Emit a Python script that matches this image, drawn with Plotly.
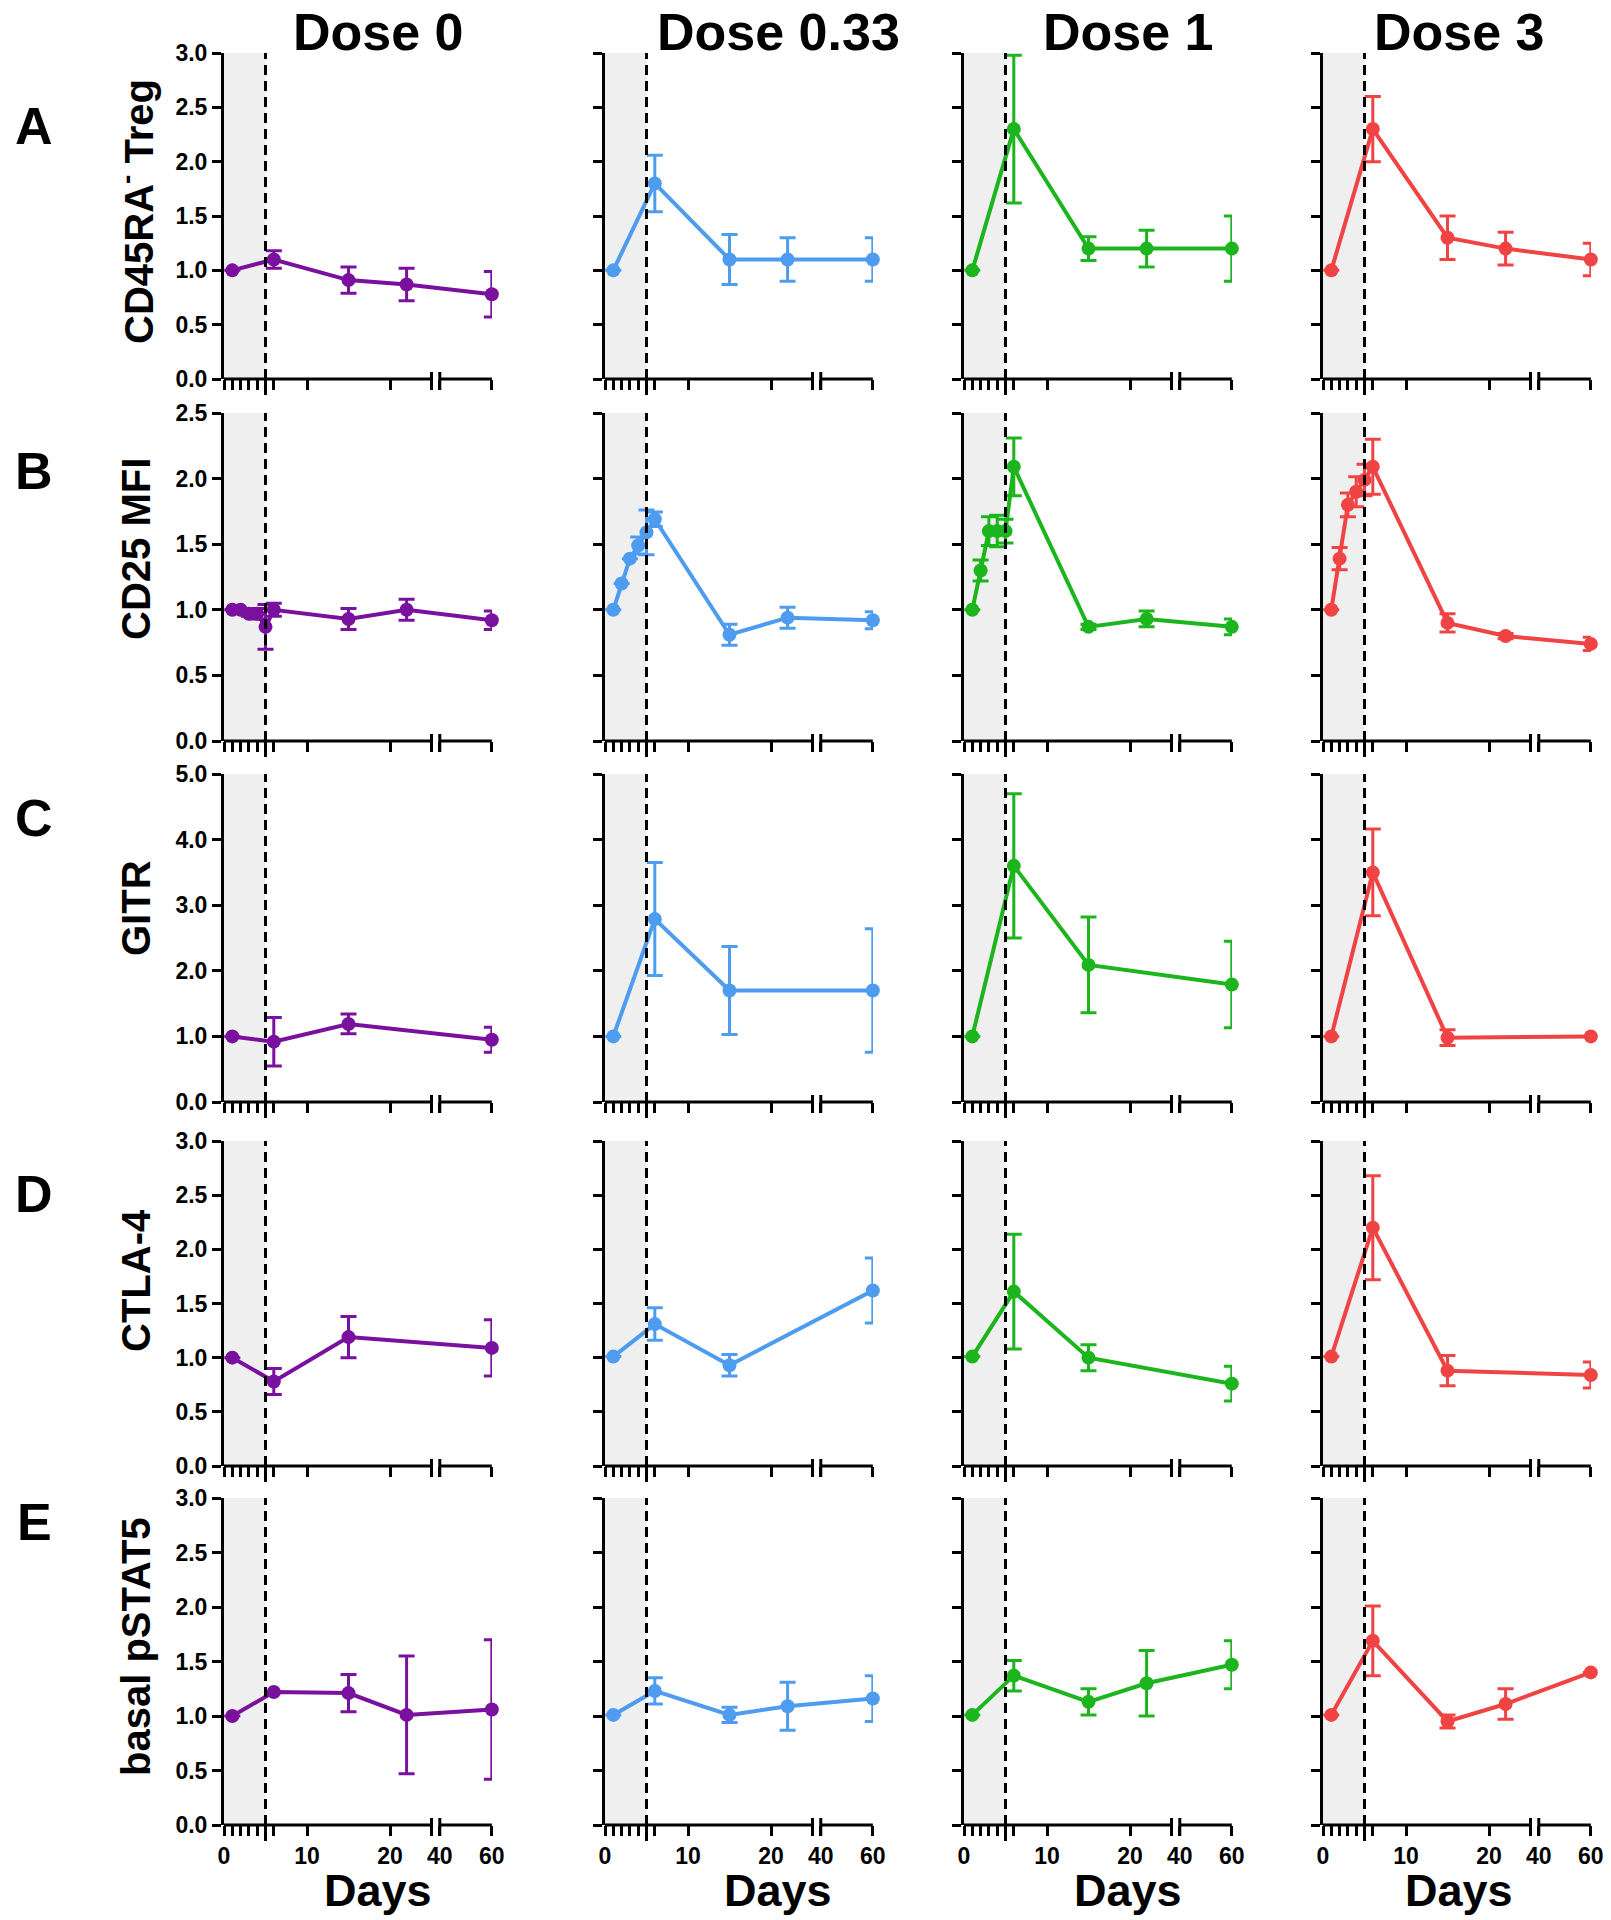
import plotly.graph_objects as go

# ---------------- data ----------------
DOSE_LABELS = ["Dose 0", "Dose 0.33", "Dose 1", "Dose 3"]
ROW_LETTERS = ["A", "B", "C", "D", "E"]
ROW_TITLES = ["CD45RA<sup>-</sup> Treg", "CD25 MFI", "GITR", "CTLA-4", "basal pSTAT5"]
ROW_YMAX = [3.0, 2.5, 5.0, 3.0, 3.0]
ROW_YSTEP = [0.5, 0.5, 1.0, 0.5, 0.5]

X_TICK_DAYS = [0, 1, 2, 3, 4, 5, 6, 10, 20, 40, 60]
X_TICK_TEXT = ["0", "", "", "", "", "", "", "10", "20", "40", "60"]

DAYS_A = [1, 6, 15, 22, 60]
DAYS_B = [1, 2, 3, 4, 5, 6, 15, 22, 60]
DAYS_C = [1, 6, 15, 60]
DAYS_D = [1, 6, 15, 60]
DAYS_E = [1, 6, 15, 22, 60]

# per dose: Dose 0, Dose 0.33, Dose 1, Dose 3
A_MEAN = [[1.00, 1.10, 0.91, 0.87, 0.78],
          [1.00, 1.80, 1.10, 1.10, 1.10],
          [1.00, 2.30, 1.20, 1.20, 1.20],
          [1.00, 2.30, 1.30, 1.20, 1.10]]
A_ERR = [[0.00, 0.08, 0.12, 0.15, 0.21],
         [0.00, 0.26, 0.23, 0.20, 0.20],
         [0.00, 0.68, 0.11, 0.17, 0.30],
         [0.00, 0.30, 0.20, 0.15, 0.15]]

B_MEAN = [[1.00, 1.00, 0.97, 0.97, 0.87, 1.00, 0.93, 1.00, 0.92],
          [1.00, 1.20, 1.39, 1.49, 1.59, 1.69, 0.81, 0.94, 0.92],
          [1.00, 1.30, 1.60, 1.60, 1.60, 2.09, 0.87, 0.93, 0.87],
          [1.00, 1.39, 1.80, 1.90, 1.99, 2.09, 0.90, 0.80, 0.74]]
B_ERR = [[0.00, 0.00, 0.02, 0.04, 0.17, 0.05, 0.08, 0.08, 0.07],
         [0.00, 0.00, 0.00, 0.065, 0.17, 0.055, 0.08, 0.08, 0.065],
         [0.00, 0.08, 0.11, 0.12, 0.09, 0.22, 0.02, 0.06, 0.06],
         [0.00, 0.085, 0.09, 0.115, 0.12, 0.21, 0.07, 0.02, 0.05]]

C_MEAN = [[1.00, 0.92, 1.19, 0.95],
          [1.00, 2.79, 1.70, 1.70],
          [1.00, 3.60, 2.09, 1.79],
          [1.00, 3.50, 0.98, 1.00]]
C_ERR = [[0.00, 0.37, 0.15, 0.19],
         [0.00, 0.86, 0.67, 0.94],
         [0.00, 1.10, 0.73, 0.66],
         [0.00, 0.66, 0.12, 0.00]]

D_MEAN = [[1.00, 0.78, 1.19, 1.09],
          [1.01, 1.31, 0.93, 1.62],
          [1.01, 1.61, 1.00, 0.76],
          [1.01, 2.20, 0.88, 0.84]]
D_ERR = [[0.00, 0.12, 0.19, 0.26],
         [0.00, 0.15, 0.10, 0.30],
         [0.00, 0.53, 0.12, 0.16],
         [0.00, 0.48, 0.14, 0.12]]

E_MEAN = [[1.00, 1.22, 1.21, 1.01, 1.06],
          [1.01, 1.23, 1.01, 1.09, 1.16],
          [1.01, 1.37, 1.13, 1.30, 1.47],
          [1.01, 1.69, 0.95, 1.11, 1.40]]
E_ERR = [[0.00, 0.00, 0.17, 0.54, 0.64],
         [0.00, 0.12, 0.07, 0.22, 0.21],
         [0.00, 0.14, 0.12, 0.30, 0.22],
         [0.00, 0.32, 0.06, 0.14, 0.00]]

ROW_DAYS = [DAYS_A, DAYS_B, DAYS_C, DAYS_D, DAYS_E]
ROW_MEANS = [A_MEAN, B_MEAN, C_MEAN, D_MEAN, E_MEAN]
ROW_ERRS = [A_ERR, B_ERR, C_ERR, D_ERR, E_ERR]

TREAT_END_DAY = 5

# ---------------- broken x scale ----------------
SEG1_END = 25.0        # first segment 0..25 days
SEG2_FROM, SEG2_TO = 40.0, 60.0
GAP = 1.0
SEG2_LEN = 6.27


def xmap(d):
    if d <= SEG1_END:
        return d
    return SEG1_END + GAP + (d - SEG2_FROM) * SEG2_LEN / (SEG2_TO - SEG2_FROM)


X_MAX = SEG1_END + GAP + SEG2_LEN + 0.02

# ---------------- styling / layout ----------------
FW, FH = 1611, 1920


def px_x(px):
    return px / FW


def px_y(py):
    return 1 - py / FH


FONT = "Liberation Sans, Arial, Helvetica, sans-serif"
COLORS = ["#7a119e", "#4d9cf0", "#1db51d", "#f04444"]
COL_LEFT = [224, 605, 964, 1323]
AXIS_W = 268
ROW_TOP = [53, 413, 774, 1141, 1498]
ROW_BOT = [379, 741, 1102, 1466, 1825]
LW = 3

TITLE_X = [378, 778, 1128, 1459]
LETTER_X = 34
LETTER_Y = [126, 471, 818, 1194, 1522]
YTITLE_X = 136
YTITLE_Y = [212, 549, 908, 1281, 1647]
TITLE_Y = 32
DAYS_Y = 1890

fig = go.Figure()
layout = dict(
    width=FW, height=FH, margin=dict(l=0, r=0, t=0, b=0, autoexpand=False),
    paper_bgcolor="white", plot_bgcolor="white", showlegend=False,
    font=dict(family=FONT, color="black"),
)
shapes = []
annotations = []

n = 0
for r in range(5):
    ymax = ROW_YMAX[r]
    step = ROW_YSTEP[r]
    yt = [round(i * step, 3) for i in range(int(round(ymax / step)) + 1)]
    hpx = ROW_BOT[r] - ROW_TOP[r]
    for c in range(4):
        n += 1
        xa = "x" if n == 1 else f"x{n}"
        ya = "y" if n == 1 else f"y{n}"
        xkey = "xaxis" if n == 1 else f"xaxis{n}"
        ykey = "yaxis" if n == 1 else f"yaxis{n}"
        layout[xkey] = dict(
            domain=[px_x(COL_LEFT[c]), px_x(COL_LEFT[c] + AXIS_W)], anchor=ya,
            range=[0, X_MAX], automargin=False,
            showgrid=False, zeroline=False, showline=False,
            tickmode="array", tickvals=[xmap(d) for d in X_TICK_DAYS],
            ticktext=X_TICK_TEXT, ticks="outside", ticklen=10, tickwidth=LW,
            tickcolor="black", showticklabels=(r == 4),
            tickfont=dict(family=FONT, size=23, color="black", weight="bold"),
            fixedrange=True,
        )
        layout[ykey] = dict(
            domain=[px_y(ROW_BOT[r]), px_y(ROW_TOP[r])], anchor=xa,
            range=[0, ymax], automargin=False, showgrid=False, zeroline=False,
            showline=True, linewidth=LW, linecolor="black",
            tickmode="array", tickvals=yt, ticktext=[f"{v:.1f}" for v in yt],
            ticks="outside", ticklen=9, tickwidth=LW, tickcolor="black",
            showticklabels=(c == 0),
            tickfont=dict(family=FONT, size=23, color="black", weight="bold"),
            fixedrange=True,
        )
        yd = ya + " domain"
        # treatment window shading
        shapes.append(dict(type="rect", xref=xa, yref=yd, x0=0, x1=xmap(TREAT_END_DAY),
                           y0=0, y1=1, fillcolor="#efefef", line=dict(width=0), layer="below"))
        # dashed line at end of treatment
        shapes.append(dict(type="line", xref=xa, yref=yd, x0=xmap(TREAT_END_DAY),
                           x1=xmap(TREAT_END_DAY), y0=-16 / hpx, y1=1,
                           line=dict(color="black", width=LW, dash="10px,6px")))
        # broken x axis line
        shapes.append(dict(type="line", xref=xa, yref=yd, x0=0, x1=SEG1_END, y0=0, y1=0,
                           line=dict(color="black", width=LW)))
        shapes.append(dict(type="line", xref=xa, yref=yd, x0=xmap(SEG2_FROM), x1=xmap(SEG2_TO),
                           y0=0, y1=0, line=dict(color="black", width=LW)))
        for bx in (SEG1_END, xmap(SEG2_FROM)):
            shapes.append(dict(type="line", xref=xa, yref=yd, x0=bx, x1=bx,
                               y0=-11 / hpx, y1=7 / hpx, line=dict(color="black", width=LW)))

        days = ROW_DAYS[r]
        fig.add_trace(go.Scatter(
            x=[xmap(d) for d in days], y=ROW_MEANS[r][c], xaxis=xa, yaxis=ya,
            mode="lines+markers", cliponaxis=False,
            line=dict(color=COLORS[c], width=4),
            marker=dict(color=COLORS[c], size=14),
            error_y=dict(type="data", array=ROW_ERRS[r][c], visible=True,
                         color=COLORS[c], thickness=3, width=8),
            hoverinfo="x+y",
        ))

    # row letter and y-axis title
    annotations.append(dict(text=ROW_LETTERS[r], x=px_x(LETTER_X), y=px_y(LETTER_Y[r]),
                            xref="paper", yref="paper", showarrow=False,
                            xanchor="center", yanchor="middle",
                            font=dict(family=FONT, size=52, color="black", weight="bold")))
    annotations.append(dict(text=ROW_TITLES[r], x=px_x(YTITLE_X), y=px_y(YTITLE_Y[r]),
                            xref="paper", yref="paper", showarrow=False, textangle=-90,
                            xanchor="center", yanchor="middle",
                            font=dict(family=FONT, size=40, color="black", weight="bold")))

for c in range(4):
    annotations.append(dict(text=DOSE_LABELS[c], x=px_x(TITLE_X[c]), y=px_y(TITLE_Y),
                            xref="paper", yref="paper", showarrow=False,
                            xanchor="center", yanchor="middle",
                            font=dict(family=FONT, size=52, color="black", weight="bold")))
    annotations.append(dict(text="Days", x=px_x(TITLE_X[c]), y=px_y(DAYS_Y),
                            xref="paper", yref="paper", showarrow=False,
                            xanchor="center", yanchor="middle",
                            font=dict(family=FONT, size=45, color="black", weight="bold")))

layout["shapes"] = shapes
layout["annotations"] = annotations
fig.update_layout(**layout)
fig.write_html(
    "out.html",
    config={"displayModeBar": False},
    post_script="document.body.style.margin='0px';document.body.style.overflow='hidden';",
)
